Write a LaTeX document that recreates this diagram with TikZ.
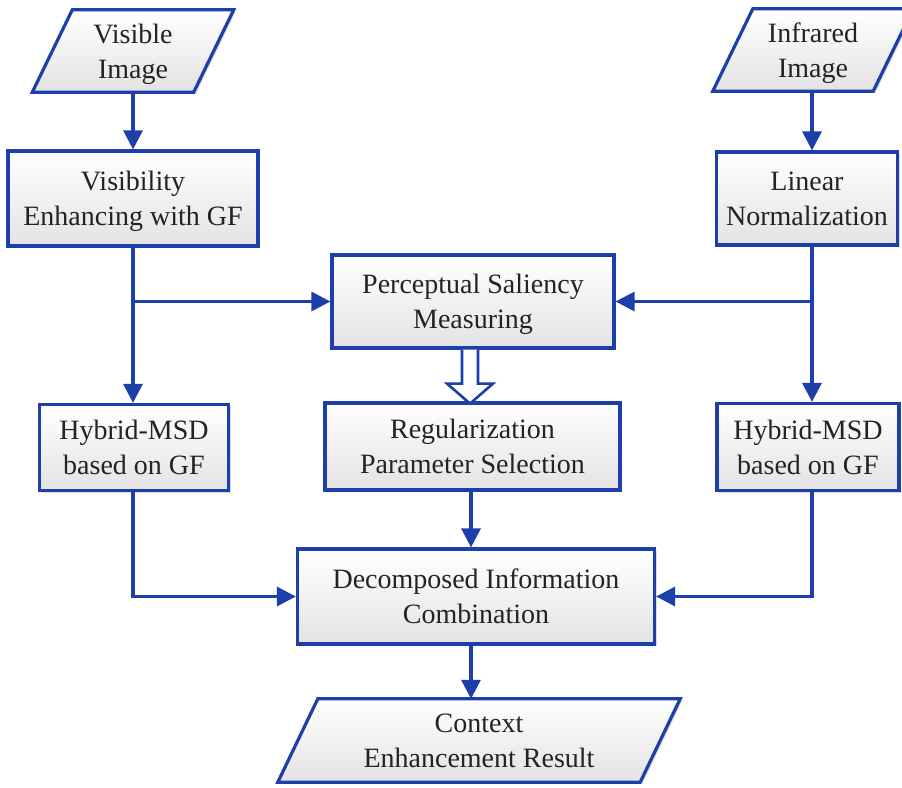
\documentclass[tikz,border=0pt]{standalone}
\usepackage{fontspec}
\setmainfont{Liberation Serif}
\newfontfamily\tnr{Liberation Serif}
\usetikzlibrary{arrows.meta,shadows,backgrounds,calc}
\definecolor{fb}{RGB}{28,63,170}
\definecolor{tx}{RGB}{35,35,35}
\begin{document}
\begin{tikzpicture}[x=1pt,y=-1pt,
  txt/.style={align=center, text=tx, font=\tnr\fontsize{28}{35}\selectfont, inner sep=0pt,
    text height=54pt, text depth=0pt},
  box/.style={txt, draw=fb, line width=3.2pt, top color=white, bottom color=black!11,
    drop shadow={shadow xshift=2pt, shadow yshift=-2pt, opacity=0.25, fill=black!60}},
  para/.style={draw=fb, line width=3.2pt, line join=miter, top color=white, bottom color=black!11,
    drop shadow={shadow xshift=2pt, shadow yshift=-2pt, opacity=0.25, fill=black!60}},
  conn/.style={draw=fb, line width=3.2pt, -{Triangle[length=19pt,width=19pt]}},
  hollow/.style={draw=fb, line width=2.6pt, fill=white, line join=miter}
]
\useasboundingbox (0,0) rectangle (902,787);
\coordinate (lcol) at (133,0);
\coordinate (rcol) at (812,0);
\coordinate (mcol) at (471,0);

% input / output parallelograms (text nodes, outlines drawn behind)
\node[txt, minimum width=161, minimum height=82] (vis) at (133,51) {Visible\\Image};
\node[txt, minimum width=160, minimum height=82] (inf) at (813,50) {Infrared\\Image};
\node[txt, minimum width=362, minimum height=83] (ctx) at (479,740.5) {Context\\Enhancement Result};
\begin{scope}[on background layer]
  \foreach \n in {vis,inf,ctx}{
    \path[para] ($(\n.south west)+(-20,0)$) -- ($(\n.south east)+(-20,0)$)
      -- ($(\n.north east)+(20,0)$) -- ($(\n.north west)+(20,0)$) -- cycle;
  }
\end{scope}

% process boxes
\node[box, minimum width=250, minimum height=95] (vb) at (133,198.5) {Visibility\\Enhancing with GF};
\node[box, minimum width=181, minimum height=93] (ln) at (807,198.5) {Linear\\Normalization};
\node[box, minimum width=282, minimum height=93] (ps) at (473,301.5) {Perceptual Saliency\\Measuring};
\node[box, minimum width=189, minimum height=86] (lh) at (134,447.5) {Hybrid-MSD\\based on GF};
\node[box, minimum width=295, minimum height=87] (rg) at (472.5,446.5) {Regularization\\Parameter Selection};
\node[box, minimum width=182, minimum height=87] (rh) at (808,447) {Hybrid-MSD\\based on GF};
\node[box, minimum width=357, minimum height=95] (dc) at (476,596.5) {Decomposed Information\\Combination};

% connectors
\draw[conn] (vis.south -| lcol) -- (vb.north -| lcol);
\draw[conn] (inf.south -| rcol) -- (ln.north -| rcol);
\draw[conn] (vb.south -| lcol) -- (lh.north -| lcol);
\draw[conn] (ln.south -| rcol) -- (rh.north -| rcol);
\coordinate (lbr) at (ps.west -| lcol);
\coordinate (rbr) at (ps.east -| rcol);
\draw[conn] (lbr) -- (ps.west);
\draw[conn] (rbr) -- (ps.east);
\draw[conn] (lh.south -| lcol) |- (dc.west);
\draw[conn] (rh.south -| rcol) |- (dc.east);
\draw[conn] (rg.south -| mcol) -- (dc.north -| mcol);
\draw[conn] (dc.south -| mcol) -- (ctx.north -| mcol);

% hollow arrow
\coordinate (ha) at ($(ps.south -| mcol)+(-1,0)$);
\draw[hollow] ($(ha)+(-8,0)$) -- ($(ha)+(-8,34)$) -- ($(ha)+(-23,34)$) -- ($(ha)+(0,54)$)
  -- ($(ha)+(23,34)$) -- ($(ha)+(8,34)$) -- ($(ha)+(8,0)$);
\end{tikzpicture}
\end{document}
